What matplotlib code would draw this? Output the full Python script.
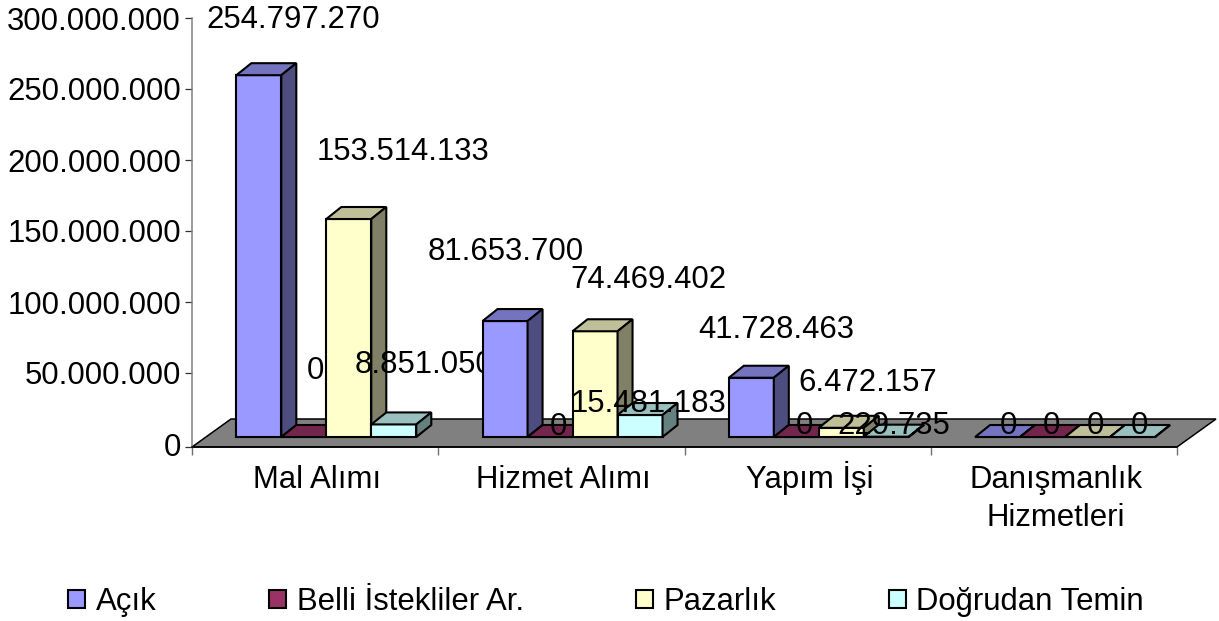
import matplotlib
matplotlib.use('Agg')
import matplotlib.pyplot as plt

plt.rcParams['font.family'] = ['Liberation Sans', 'DejaVu Sans']

categories = ['Mal Alımı', 'Hizmet Alımı', 'Yapım İşi', 'Danışmanlık\nHizmetleri']
series_names = ['Açık', 'Belli İstekliler Ar.', 'Pazarlık', 'Doğrudan Temin']
acik = [254797270, 81653700, 41728463, 0]
belli = [0, 0, 0, 0]
pazarlik = [153514133, 74469402, 6472157, 0]
dogrudan = [8851050, 15481183, 229735, 0]
y_ticks = [0, 50000000, 100000000, 150000000, 200000000, 250000000, 300000000]

# front, top, side colours per series
colors = [('#9999FF', '#7373BF', '#4D4D80'),
          ('#993366', '#73264D', '#4D1A33'),
          ('#FFFFCC', '#BFBF99', '#808066'),
          ('#CCFFFF', '#99BFBF', '#668080')]

# where Excel dropped each data label, pixels from the top of the bar (one row per series)
label_offsets = [[(34, 55), (1, 69), (25, 48), (11, 11)],
                 [(12, 66), (8, 10), (8, 11), (9, 11)],
                 [(54, 67), (53, 51), (26, 45), (8, 11)],
                 [(30, 59), (8, 11), (7, 11), (7, 11)]]

FS = 22.4


def fmt(v):
    return f'{v:,}'.replace(',', '.')


fig = plt.figure(figsize=(12.19, 6.21), dpi=100)
ax = fig.add_axes([192 / 1219, (621 - 447) / 621, 985 / 1219, 429 / 621])

# pixel sizes of the fake 3D turned into data units
px_x = 4 / 985
px_y = 50000000 / 71
ymin = -3 * px_y
ax.set_xlim(0, 4)
ax.set_ylim(ymin, 300000000)
floor_dx, floor_dy = 39 * px_x, 28 * px_y
bar_dx, bar_dy = 15 * px_x, 12 * px_y
lift = 7 * px_y
bar_w = 0.1827
start = 0.18

# floor
ax.fill([0, 4, 4 + floor_dx, floor_dx], [ymin, ymin, ymin + floor_dy, ymin + floor_dy], facecolor='#808080',
        edgecolor='black', linewidth=1.1, clip_on=False, zorder=1)

all_series = [acik, belli, pazarlik, dogrudan]
handles = []
for i in range(len(categories)):
    z = 3 + 2 * i
    for j, values in enumerate(all_series):
        front, top, side = colors[j]
        left = i + start + j * bar_w
        v = values[i]
        right = left + bar_w
        ytop = lift + v
        bar = ax.bar(left, v, bar_w, bottom=lift, align='edge', facecolor=front, edgecolor='black',
                     linewidth=1.5, clip_on=False, zorder=z)
        ax.fill([left, right, right + bar_dx, left + bar_dx], [ytop, ytop, ytop + bar_dy, ytop + bar_dy],
                facecolor=top, edgecolor='black', linewidth=1.5, clip_on=False, zorder=z)
        ax.fill([right, right + bar_dx, right + bar_dx, right], [lift, lift + bar_dy, ytop + bar_dy, ytop],
                facecolor=side, edgecolor='black', linewidth=1.5, clip_on=False, zorder=z)
        if i == 0:
            handles.append(bar)

    # labels sit above this group's bars but under the next group's
    for j, values in enumerate(all_series):
        off = label_offsets[j][i]
        ax.annotate(fmt(values[i]), xy=(i + start + (j + 0.5) * bar_w, lift + values[i]), xytext=off,
                    textcoords='offset pixels', ha='center', va='center', fontsize=FS,
                    color='black', annotation_clip=False, zorder=z + 1)

for s in ['top', 'right']:
    ax.spines[s].set_visible(False)
ax.spines['left'].set_color('#808080')
ax.spines['left'].set_linewidth(1.1)
ax.spines['bottom'].set_linewidth(1.1)

ax.set_yticks(y_ticks)
ax.set_yticklabels([fmt(v) for v in y_ticks], fontsize=FS)
ax.tick_params(axis='y', which='major', length=5, width=0.9, color='#303030', pad=3)
# the zero tick really sits on the floor's front edge, below the zero label
ax.yaxis.get_major_ticks()[0].tick1line.set_visible(False)
ax.set_yticks([ymin], minor=True)
ax.tick_params(axis='y', which='minor', length=5, width=0.9, color='#303030')

ax.set_xticks([0, 1, 2, 3, 4])
ax.set_xticklabels([])
ax.tick_params(axis='x', which='major', length=5.5, width=1.0, color='#707070')

# category names line by line, so İ does not push a label down
for i, name in enumerate(categories):
    for k, line in enumerate(name.split('\n')):
        ax.annotate(line, xy=(i + 0.5, ymin), xytext=(2, -(41 + 38 * k)), textcoords='offset pixels',
                    ha='center', va='baseline', fontsize=FS, annotation_clip=False)

leg = fig.legend(handles, series_names, loc='lower left', bbox_to_anchor=(68 / 1219, 1 - 617 / 621),
                 bbox_transform=fig.transFigure, ncol=4, frameon=False, fontsize=FS,
                 handlelength=0.55, handleheight=0.5, handletextpad=0.35, columnspacing=3.6,
                 borderpad=0, borderaxespad=0)

fig.savefig('out.png', dpi=100)
